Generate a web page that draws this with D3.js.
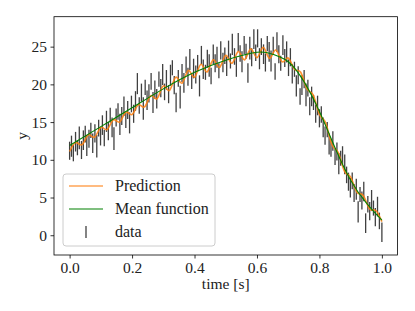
<!DOCTYPE html>
<html>
<head>
<meta charset="utf-8">
<script src="https://cdn.jsdelivr.net/npm/d3@7"></script>
<style>
  html, body { margin: 0; padding: 0; background: #fff; }
  svg { display: block; font-family: "Liberation Serif", "DejaVu Serif", serif; }
</style>
</head>
<body>
<svg id="chart" width="415" height="311"></svg>
<script>
// measured samples (time, value, error)
const dataX = [
  0.000, 0.006, 0.012, 0.019, 0.025, 0.031, 0.038, 0.044, 0.050, 0.055, 0.062, 0.068, 0.074, 0.081, 0.087, 0.093, 0.099,
  0.105, 0.111, 0.118, 0.124, 0.130, 0.136, 0.142, 0.149, 0.155, 0.161, 0.167, 0.174, 0.180, 0.186, 0.192, 0.198,
  0.205, 0.211, 0.217, 0.223, 0.230, 0.236, 0.242, 0.248, 0.254, 0.261, 0.267, 0.273, 0.279, 0.286, 0.292, 0.298,
  0.304, 0.310, 0.317, 0.323, 0.329, 0.335, 0.341, 0.348, 0.354, 0.360, 0.366, 0.373, 0.379, 0.385, 0.391, 0.397,
  0.404, 0.410, 0.416, 0.422, 0.428, 0.435, 0.441, 0.447, 0.453, 0.460, 0.466, 0.472, 0.478, 0.484, 0.491, 0.497,
  0.503, 0.509, 0.515, 0.521, 0.528, 0.534, 0.540, 0.546, 0.552, 0.559, 0.565, 0.571, 0.577, 0.583, 0.590, 0.596,
  0.602, 0.608, 0.614, 0.621, 0.627, 0.633, 0.639, 0.645, 0.652, 0.658, 0.664, 0.670, 0.676, 0.683, 0.689, 0.695,
  0.701, 0.707, 0.713, 0.720, 0.726, 0.732, 0.738, 0.744, 0.751, 0.757, 0.763, 0.769, 0.775, 0.781, 0.788, 0.794,
  0.800, 0.806, 0.812, 0.818, 0.825, 0.831, 0.837, 0.843, 0.850, 0.856, 0.862, 0.868, 0.874, 0.881, 0.887, 0.893,
  0.899, 0.905, 0.911, 0.918, 0.924, 0.930, 0.936, 0.942, 0.948, 0.955, 0.961, 0.967, 0.973, 0.979, 0.986, 0.992, 1.000
];
const dataY = [
  11.2, 11.8, 10.9, 12.4, 11.6, 12.9, 11.3, 12.6, 13.4, 11.9, 12.8, 13.9, 12.2, 13.5, 11.8, 14.2, 13.1,
  14.6, 12.9, 15.1, 13.8, 15.9, 14.3, 12.8, 15.6, 16.4, 14.7, 15.8, 17.1, 15.2, 16.6, 14.9, 17.4,
  16.1, 17.8, 20.1, 17.2, 18.9, 16.8, 19.6, 17.9, 18.8, 20.4, 17.6, 19.3, 18.1, 20.7, 19.5, 21.3,
  19.0, 20.6, 18.7, 21.2, 22.2, 19.9, 17.6, 20.8, 18.3, 21.5, 20.2, 22.6, 21.0, 23.3, 20.4, 22.1,
  21.3, 22.8, 19.8, 23.9, 22.0, 21.6, 23.4, 22.5, 21.1, 24.0, 22.8, 23.6, 21.8, 24.5, 22.9, 23.8,
  22.4, 24.6, 23.1, 25.3, 23.7, 22.3, 25.6, 24.1, 23.0, 25.2, 24.4, 21.5, 24.8, 23.6, 26.0, 24.2,
  26.1, 23.4, 25.0, 24.0, 22.9, 25.4, 24.3, 23.1, 25.1, 21.7, 25.6, 24.0, 22.8, 25.2, 23.5, 24.3,
  22.2, 23.6, 21.4, 22.0, 19.8, 21.2, 18.4, 19.9, 20.7, 18.6, 19.5, 17.1, 18.4, 17.6, 16.1, 17.2,
  15.5, 16.0, 14.3, 13.2, 14.0, 12.1, 11.6, 12.5, 10.4, 11.1, 9.5, 10.2, 10.6, 9.4, 8.0, 7.1,
  6.3, 7.2, 5.6, 6.1, 3.1, 5.4, 4.6, 5.8, 1.6, 4.1, 3.2, 4.6, 3.6, 2.4, 3.8, 1.9, 0.4
];
const dataErr = [
  1.2, 1.4, 1.1, 1.3, 1.0, 1.5, 1.2, 1.3, 1.1, 1.4, 1.2, 1.0, 1.3, 1.2, 1.5, 1.1, 1.2,
  1.3, 1.1, 1.4, 1.2, 1.0, 1.3, 1.5, 1.2, 1.1, 1.4, 1.2, 1.3, 1.0, 1.2, 1.4, 1.1,
  1.2, 1.3, 1.4, 1.1, 1.2, 1.5, 1.0, 1.3, 1.2, 1.1, 1.4, 1.2, 1.3, 1.0, 1.2, 1.4,
  1.1, 1.3, 1.2, 1.4, 1.0, 1.2, 1.3, 1.1, 1.5, 1.2, 1.3, 1.1, 1.2, 1.4, 1.0, 1.3,
  1.2, 1.1, 1.4, 1.2, 1.3, 1.0, 1.2, 1.5, 1.1, 1.3, 1.2, 1.4, 1.0, 1.2, 1.3, 1.1,
  1.3, 1.2, 1.0, 1.4, 1.1, 1.3, 1.2, 1.1, 1.4, 1.2, 1.0, 1.3, 1.5, 1.2, 1.3, 1.1,
  1.2, 1.4, 1.1, 1.3, 1.2, 1.0, 1.3, 1.4, 1.2, 1.1, 1.3, 1.2, 1.0, 1.3, 1.2, 1.4,
  1.1, 1.2, 1.3, 1.0, 1.4, 1.2, 1.1, 1.3, 1.2, 1.5, 1.1, 1.2, 1.3, 1.0, 1.2, 1.3,
  1.2, 1.1, 1.3, 1.2, 1.0, 1.4, 1.2, 1.3, 1.1, 1.2, 1.4, 1.0, 1.2, 1.3, 1.1, 1.2,
  1.3, 1.1, 1.2, 1.4, 1.4, 1.0, 1.2, 1.3, 1.3, 1.1, 1.2, 1.4, 1.0, 1.2, 1.3, 1.1, 1.3
];

// prediction curve (peaks / troughs)
const predX = [
  0.00, 0.02, 0.04, 0.06, 0.08, 0.10, 0.12, 0.14, 0.16, 0.18, 0.20, 0.22, 0.24, 0.26, 0.28, 0.30, 0.32,
  0.34, 0.36, 0.38, 0.40, 0.42, 0.44, 0.46, 0.48, 0.50, 0.52, 0.54, 0.56, 0.58, 0.60, 0.62, 0.64,
  0.66, 0.68, 0.70, 0.72, 0.74, 0.76, 0.78, 0.80, 0.82, 0.84, 0.86, 0.88, 0.90, 0.92, 0.94, 0.96, 0.98, 1.00
];
const predY = [
  11.1, 12.3, 12.0, 13.3, 13.0, 14.3, 14.0, 15.3, 15.0, 16.3, 16.0, 17.3, 17.0, 18.5, 18.1, 19.8, 19.2,
  20.95, 20.15, 21.85, 20.95, 22.65, 21.65, 23.25, 22.25, 23.85, 22.8, 24.35, 23.25, 24.7, 23.55, 24.9, 23.45,
  24.55, 23.0, 23.5, 22.0, 21.6, 19.4, 18.6, 16.0, 14.9, 12.0, 11.0, 8.5, 7.7, 5.7, 5.3, 3.5, 3.3, 1.8
];

// mean function
const meanX = [0, 0.1, 0.2, 0.3, 0.4, 0.5, 0.6, 0.65, 0.7, 0.75, 0.8, 0.85, 0.9, 0.95, 1.0];
const meanY = [11.9, 14.4, 16.9, 19.4, 21.6, 23.2, 24.25, 24.0, 23.0, 20.4, 16.4, 11.6, 7.3, 4.3, 2.0];

const xTicks = [0.0, 0.2, 0.4, 0.6, 0.8, 1.0];
const yTicks = [0, 5, 10, 15, 20, 25];
const legendLabels = ['Prediction', 'Mean function', 'data'];

const svg = d3.select('#chart');
const plotLeft = 54;
const plotRight = 397.5;
const plotTop = 16.7;
const plotBottom = 255;

const x = d3.scaleLinear().domain([-0.05, 1.05]).range([plotLeft, plotRight]);
const y = d3.scaleLinear().domain([-2.62, 28.97]).range([plotBottom, plotTop]);

// error bars
const points = dataX.map((d, i) => ({ x: d, y: dataY[i], e: dataErr[i] }));
svg.append('g').selectAll('line').data(points).enter()
  .append('line')
  .attr('x1', (d) => x(d.x))
  .attr('x2', (d) => x(d.x))
  .attr('y1', (d) => y(d.y - d.e))
  .attr('y2', (d) => y(d.y + d.e))
  .attr('stroke', '#000')
  .attr('stroke-opacity', 0.75)
  .attr('stroke-width', 1.3);

// prediction
const curve = d3.line()
  .x((d) => x(d[0]))
  .y((d) => y(d[1]))
  .curve(d3.curveNatural);
svg.append('path')
  .attr('d', curve(predX.map((d, i) => [d, predY[i]])))
  .attr('fill', 'none')
  .attr('stroke', '#ff7f0e')
  .attr('stroke-opacity', 0.85)
  .attr('stroke-width', 1.6);

// mean function
svg.append('path')
  .attr('d', curve(meanX.map((d, i) => [d, meanY[i]])))
  .attr('fill', 'none')
  .attr('stroke', '#008000')
  .attr('stroke-width', 1.1);

// axes
const xAxis = svg.append('g')
  .attr('transform', `translate(0,${plotBottom})`)
  .call(d3.axisBottom(x).tickValues(xTicks).tickFormat(d3.format('.1f')).tickSizeOuter(0).tickSize(3.5).tickPadding(3));
const yAxis = svg.append('g')
  .attr('transform', `translate(${plotLeft},0)`)
  .call(d3.axisLeft(y).tickValues(yTicks).tickSizeOuter(0).tickSize(3.5).tickPadding(3.5));
[xAxis, yAxis].forEach((g) => {
  g.select('.domain').remove();
  g.selectAll('line').attr('stroke', '#000').attr('stroke-width', 0.8);
  g.selectAll('text').attr('font-family', '"Liberation Serif", serif').attr('font-size', 15.5).attr('fill', '#222');
});

svg.append('rect')
  .attr('x', plotLeft).attr('y', plotTop)
  .attr('width', plotRight - plotLeft).attr('height', plotBottom - plotTop)
  .attr('fill', 'none').attr('stroke', '#000').attr('stroke-width', 0.8);

svg.append('text')
  .attr('x', (plotLeft + plotRight) / 2).attr('y', 289)
  .attr('text-anchor', 'middle').attr('font-size', 15.5).attr('fill', '#222')
  .text('time [s]');
svg.append('text')
  .attr('transform', `translate(27,${(plotTop + plotBottom) / 2}) rotate(-90)`)
  .attr('text-anchor', 'middle').attr('font-size', 15.5).attr('fill', '#222')
  .text('y');

// legend
const lg = svg.append('g');
lg.append('rect')
  .attr('x', 63).attr('y', 174).attr('width', 152).attr('height', 72).attr('rx', 3)
  .attr('fill', '#fff').attr('fill-opacity', 0.8)
  .attr('stroke', '#ccc').attr('stroke-width', 1);
const rows = [186, 209, 232];
lg.append('line').attr('x1', 69).attr('x2', 103).attr('y1', rows[0]).attr('y2', rows[0])
  .attr('stroke', '#ff7f0e').attr('stroke-opacity', 0.7).attr('stroke-width', 1.5);
lg.append('line').attr('x1', 69).attr('x2', 103).attr('y1', rows[1]).attr('y2', rows[1])
  .attr('stroke', '#008000').attr('stroke-width', 1.1);
lg.append('line').attr('x1', 86).attr('x2', 86).attr('y1', rows[2] - 6).attr('y2', rows[2] + 6)
  .attr('stroke', '#000').attr('stroke-opacity', 0.75).attr('stroke-width', 1.3);
lg.selectAll('text').data(legendLabels).enter()
  .append('text')
  .attr('x', 115)
  .attr('y', (d, i) => rows[i] + 5)
  .attr('font-size', 16)
  .attr('fill', '#222')
  .text((d) => d);
</script>
</body>
</html>
